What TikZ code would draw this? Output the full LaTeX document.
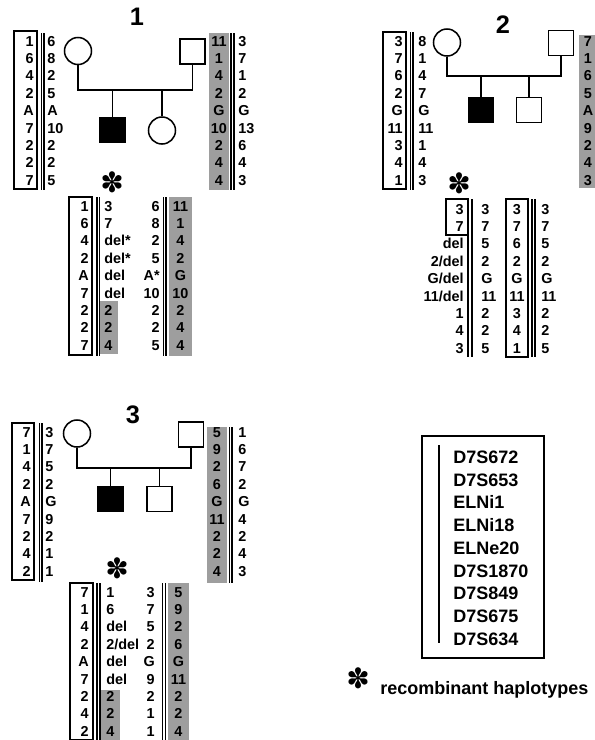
\documentclass[tikz,border=0pt]{standalone}
\usepackage{fontspec}
\setmainfont{Liberation Sans}
\newfontfamily\djv{DejaVu Sans}
\definecolor{hg}{gray}{0.62}
\newcommand\hapcol[5]{%
  \foreach \v [count=\i] in {#5} {\node[hap,anchor=#4] (#1\i) at (#2,{#3+17.4*(\i-1)}) {\v};}}
\newcommand\dbl[4]{\draw[vl] (#1,#3) -- (#1,#4); \draw[vl] (#2,#3) -- (#2,#4);}
\begin{document}
\begin{tikzpicture}[x=0.75pt,y=-0.75pt,
  hap/.style={font=\fontsize{10.8}{12}\selectfont\bfseries,inner sep=0pt,text height=7.7pt,text depth=0pt},
  ttl/.style={font=\fontsize{19}{20}\selectfont\bfseries,inner sep=0pt},
  leg/.style={font=\fontsize{13.5}{16}\selectfont\bfseries,inner sep=0pt,anchor=west,text height=9.7pt,text depth=0pt},
  ast/.style={font=\djv\fontsize{21}{21}\selectfont,inner sep=0pt},
  pl/.style={line width=1.15pt},
  vl/.style={line width=1.1pt},
  bx/.style={line width=0.9pt},
  fem/.style={circle,draw,pl,minimum size=20.25pt,inner sep=0pt},
  mal/.style={rectangle,draw,pl,minimum size=19pt,inner sep=0pt},
  aff/.style={mal,fill=black},
]
\useasboundingbox (0,0) rectangle (595,740);

% ---------------- Family 1 ----------------
\node[ttl] (t1) at (137,17) {1};
\fill[hg] (209,33) rectangle (229,190);
\fill[hg] (100,301) rectangle (118,354);
\fill[hg] (169,197) rectangle (192,356);
\draw[bx] (14,31) rectangle (37,189);
\draw[bx] (69,197) rectangle (92,355);
\dbl{41.5}{44}{33}{190}
\dbl{231}{234}{33}{190}
\dbl{97}{99.5}{197}{356}
\dbl{163.5}{166}{197}{356}
\hapcol{pa}{34}{41}{east}{1,6,4,2,A,7,2,2,7}
\hapcol{pb}{47}{41}{west}{6,8,2,5,A,10,2,2,5}
\hapcol{pc}{219}{41}{center}{11,1,4,2,G,10,2,4,4}
\hapcol{pd}{238}{41}{west}{3,7,1,2,G,13,6,4,3}
\hapcol{pe}{89}{206}{east}{1,6,4,2,A,7,2,2,7}
\hapcol{pf}{104}{206}{west}{3,7,del*,del*,del,del,2,2,4}
\hapcol{pg}{160}{206}{east}{6,8,2,5,A*,10,2,2,5}
\hapcol{ph}{180.5}{206}{center}{11,1,4,2,G,10,2,4,4}
\node[fem] (m1) at (78,51) {};
\node[mal] (f1) at (192.5,51.5) {};
\node[aff] (c1a) at (112.5,130) {};
\node[fem] (c1b) at (162,130.5) {};
\coordinate (h1) at (0,90);
\draw[pl] (m1.south) -- (m1.south |- h1) -| (f1.south);
\draw[pl] (c1a.north) -- (c1a.north |- h1);
\draw[pl] (c1b.north) -- (c1b.north |- h1);
\node[ast] (a1) at (112,182) {✽};

% ---------------- Family 2 ----------------
\node[ttl] (t2) at (503,25) {2};
\fill[hg] (579,35) rectangle (595,188);
\draw[bx] (383,32) rectangle (406,189);
\draw[bx] (446,199) rectangle (468,235);
\draw[bx] (506,199) rectangle (528,357);
\dbl{410.5}{413}{32}{190}
\dbl{468}{472}{199}{357}
\dbl{532}{535}{199}{357}
\hapcol{qa}{403}{41}{east}{3,7,6,2,G,11,3,4,1}
\hapcol{qb}{418}{41}{west}{8,1,4,7,G,11,1,4,3}
\hapcol{qc}{588}{41}{center}{7,1,6,5,A,9,2,4,3}
\hapcol{qd}{464}{209}{east}{3,7,del,2/del,G/del,11/del,1,4,3}
\hapcol{qe}{481}{209}{west}{3,7,5,2,G,11,2,2,5}
\hapcol{qf}{517}{209}{center}{3,7,6,2,G,11,3,4,1}
\hapcol{qg}{541}{209}{west}{3,7,5,2,G,11,2,2,5}
\node[fem] (m2) at (447,42.5) {};
\node[mal] (f2) at (561,43) {};
\node[aff] (c2a) at (481,110) {};
\node[mal] (c2b) at (529,110) {};
\coordinate (h2) at (0,76);
\draw[pl] (m2.south) -- (m2.south |- h2) -| (f2.south);
\draw[pl] (c2a.north) -- (c2a.north |- h2);
\draw[pl] (c2b.north) -- (c2b.north |- h2);
\node[ast] (a2) at (459,183) {✽};

% ---------------- Family 3 ----------------
\node[ttl] (t3) at (133,415) {3};
\fill[hg] (207,427) rectangle (227,583);
\fill[hg] (100,690) rectangle (120,740);
\fill[hg] (168,583) rectangle (189,740);
\draw[bx] (12,423) rectangle (34,580);
\draw[bx] (70,583) rectangle (93,739.5);
\dbl{39.5}{42}{423}{582}
\dbl{229.5}{232}{427}{583}
\dbl{97}{100}{583}{740}
\dbl{162.5}{165.5}{583}{740}
\hapcol{ra}{31}{432}{east}{7,1,4,2,A,7,2,4,2}
\hapcol{rb}{45}{432}{west}{3,7,5,2,G,9,2,1,1}
\hapcol{rc}{217}{432}{center}{5,9,2,6,G,11,2,2,4}
\hapcol{rd}{238}{432}{west}{1,6,7,2,G,4,2,4,3}
\hapcol{re}{89}{592}{east}{7,1,4,2,A,7,2,4,2}
\hapcol{rf}{106}{592}{west}{1,6,del,2/del,del,del,2,2,4}
\hapcol{rg}{155}{592}{east}{3,7,5,2,G,9,2,1,1}
\hapcol{rh}{178.5}{592}{center}{5,9,2,6,G,11,2,2,4}
\node[fem] (m3) at (77,433.5) {};
\node[mal] (f3) at (191,434.5) {};
\node[aff] (c3a) at (110.5,499) {};
\node[mal] (c3b) at (159.5,499) {};
\coordinate (h3) at (0,468);
\draw[pl] (m3.south) -- (m3.south |- h3) -| (f3.south);
\draw[pl] (c3a.north) -- (c3a.north |- h3);
\draw[pl] (c3b.north) -- (c3b.north |- h3);
\node[ast] (a3) at (117,568) {✽};

% ---------------- Legend ----------------
\draw[bx] (422,436) rectangle (544,658);
\draw[vl] (439,445) -- (439,643);
\foreach \t [count=\i] in {D7S672,D7S653,ELNi1,ELNi18,ELNe20,D7S1870,D7S849,D7S675,D7S634}
  {\node[leg] (l\i) at (453,{457+22.75*(\i-1)}) {\t};}
\node[ast] (a4) at (358,678) {✽};
\node[leg] (lr) at (380,688) {recombinant haplotypes};
\end{tikzpicture}
\end{document}
